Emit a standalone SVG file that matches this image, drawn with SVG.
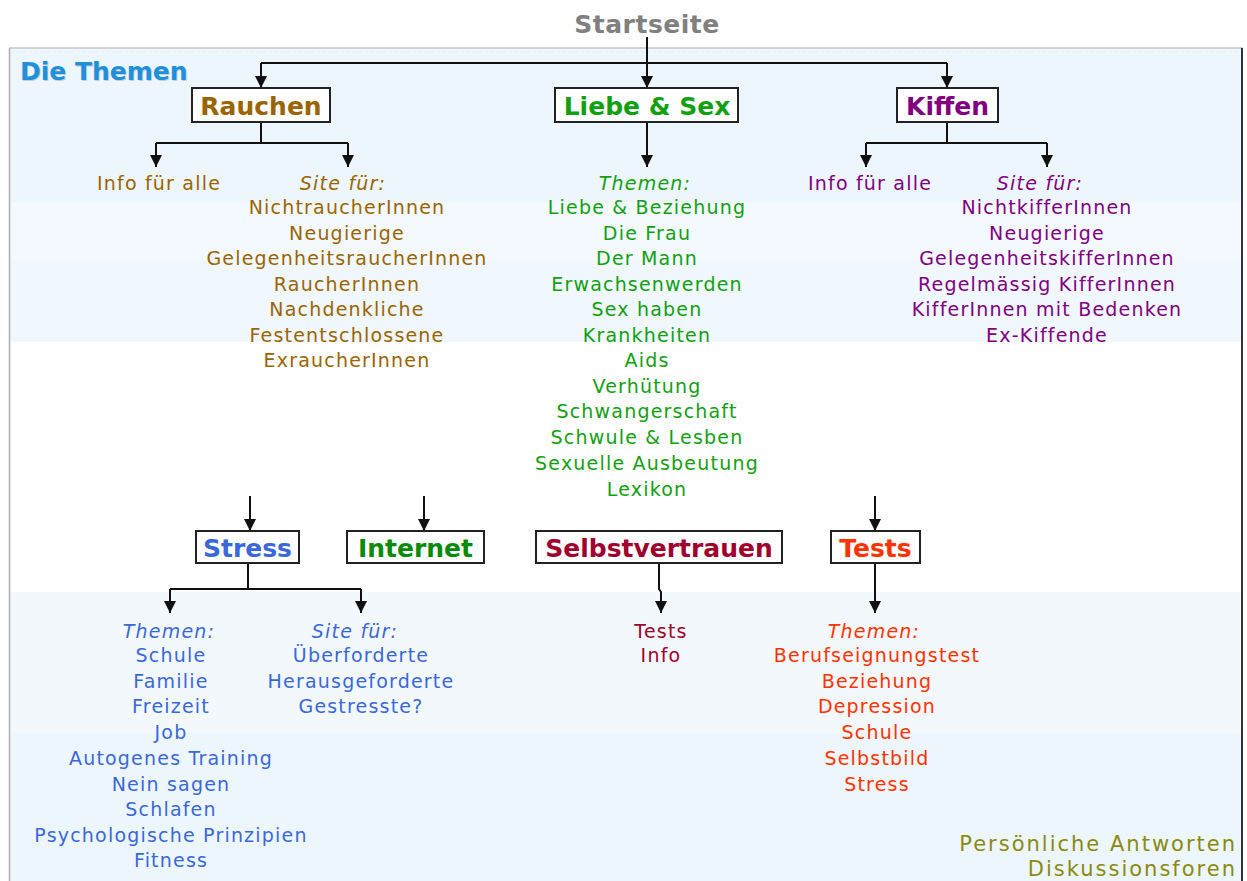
<svg xmlns="http://www.w3.org/2000/svg" width="1247" height="881" viewBox="0 0 1247 881">
<defs>
<marker id="ah" markerUnits="userSpaceOnUse" markerWidth="12" markerHeight="12" viewBox="0 0 10 10" refX="10" refY="5" orient="auto"><path d="M0,0 L10,5 L0,10 z" fill="#111"/></marker>
<style>
.bx{fill:#fff;stroke:#222;stroke-width:2}
.bt{font-family:"DejaVu Sans",Verdana,sans-serif;font-weight:bold;font-size:25px;text-anchor:middle}
.t{font-family:"DejaVu Sans",Verdana,sans-serif;font-size:19px;letter-spacing:1.2px;text-anchor:middle}
.i{font-style:italic}
.c{fill:none;stroke:#111;stroke-width:2}
.ca{fill:none;stroke:#111;stroke-width:2;marker-end:url(#ah)}
.ft{font-family:"DejaVu Sans",Verdana,sans-serif;font-size:21px;letter-spacing:2px;text-anchor:end;fill:#8A8A12}
.rau{fill:#9A6500}.lie{fill:#12A012}.kif{fill:#800080}.str{fill:#3A68DA}.int{fill:#0A8A0A}.sel{fill:#A0002E}.tst{fill:#FF3300}
</style>
</defs>
<rect width="1247" height="881" fill="#fff"/>
<g id="panel">
<rect x="9" y="48" width="1234" height="840" fill="#EEF6FD"/>
<rect x="10" y="202" width="1232" height="58" fill="#F3F9FF"/>
<rect x="10" y="260" width="1232" height="82" fill="#F0F7FE"/>
<rect x="10" y="342" width="1232" height="250" fill="#fff"/>
<rect x="10" y="592" width="1232" height="141" fill="#F3F8FD"/>
<line x1="9" y1="48" x2="1243" y2="48" stroke="#C4C4C4" stroke-width="1.5"/>
<line x1="12" y1="52" x2="1240" y2="52" stroke="#DDE3EA" stroke-width="1" stroke-dasharray="1 5"/>
<line x1="9.5" y1="48" x2="9.5" y2="881" stroke="#AFAFAF" stroke-width="1.5"/>
<line x1="1242" y1="48" x2="1242" y2="881" stroke="#333" stroke-width="2"/>
</g>
<g id="header">
<text x="647" y="33" class="bt" fill="#808080" letter-spacing="0.5">Startseite</text>
<text x="21" y="81" font-family="DejaVu Sans,Verdana,sans-serif" font-weight="bold" font-size="25" fill="#C8CDD4">Die Themen</text>
<text x="20" y="80" font-family="DejaVu Sans,Verdana,sans-serif" font-weight="bold" font-size="25" fill="#1E90DC">Die Themen</text>
</g>
<g id="connectors">
<path class="ca" d="M647,37 V88"/>
<path class="c" d="M261,63 H947"/>
<path class="ca" d="M261,63 V88"/>
<path class="ca" d="M947,63 V88"/>
<path class="c" d="M261,122 V143 M156,143 H348"/>
<path class="ca" d="M156,143 V167"/>
<path class="ca" d="M348,143 V167"/>
<path class="ca" d="M647,122 V167"/>
<path class="c" d="M947,122 V143 M866,143 H1047"/>
<path class="ca" d="M866,143 V167"/>
<path class="ca" d="M1047,143 V167"/>
<path class="ca" d="M250,496 V531"/>
<path class="ca" d="M424,496 V531"/>
<path class="ca" d="M875,496 V531"/>
<path class="c" d="M248,563 V589 M170,589 H361"/>
<path class="ca" d="M170,589 V613"/>
<path class="ca" d="M361,589 V613"/>
<path class="ca" d="M659,563 V589 L661,592 V613"/>
<path class="ca" d="M875,563 V613"/>
</g>
<g id="rauchen">
<rect class="bx" x="192" y="88" width="138" height="34"/>
<text class="bt rau" x="261" y="115">Rauchen</text>
<text class="t rau" x="159" y="190">Info für alle</text>
<text class="t rau i" x="343" y="190">Site für:</text>
<text class="t rau" x="347" y="214">NichtraucherInnen</text>
<text class="t rau" x="347" y="240">Neugierige</text>
<text class="t rau" x="347" y="265">GelegenheitsraucherInnen</text>
<text class="t rau" x="347" y="291">RaucherInnen</text>
<text class="t rau" x="347" y="316">Nachdenkliche</text>
<text class="t rau" x="347" y="342">Festentschlossene</text>
<text class="t rau" x="347" y="367">ExraucherInnen</text>
</g>
<g id="liebe">
<rect class="bx" x="555" y="88" width="183" height="34"/>
<text class="bt lie" x="647" y="115">Liebe &amp; Sex</text>
<text class="t lie i" x="645" y="190">Themen:</text>
<text class="t lie" x="647" y="214">Liebe &amp; Beziehung</text>
<text class="t lie" x="647" y="240">Die Frau</text>
<text class="t lie" x="647" y="265">Der Mann</text>
<text class="t lie" x="647" y="291">Erwachsenwerden</text>
<text class="t lie" x="647" y="316">Sex haben</text>
<text class="t lie" x="647" y="342">Krankheiten</text>
<text class="t lie" x="647" y="367">Aids</text>
<text class="t lie" x="647" y="393">Verhütung</text>
<text class="t lie" x="647" y="418">Schwangerschaft</text>
<text class="t lie" x="647" y="444">Schwule &amp; Lesben</text>
<text class="t lie" x="647" y="470">Sexuelle Ausbeutung</text>
<text class="t lie" x="647" y="496">Lexikon</text>
</g>
<g id="kiffen">
<rect class="bx" x="897" y="88" width="101" height="34"/>
<text class="bt kif" x="947.5" y="115">Kiffen</text>
<text class="t kif" x="870" y="190">Info für alle</text>
<text class="t kif i" x="1040" y="190">Site für:</text>
<text class="t kif" x="1047" y="214">NichtkifferInnen</text>
<text class="t kif" x="1047" y="240">Neugierige</text>
<text class="t kif" x="1047" y="265">GelegenheitskifferInnen</text>
<text class="t kif" x="1047" y="291">Regelmässig KifferInnen</text>
<text class="t kif" x="1047" y="316">KifferInnen mit Bedenken</text>
<text class="t kif" x="1047" y="342">Ex-Kiffende</text>
</g>
<g id="stress">
<rect class="bx" x="196" y="531" width="103" height="32"/>
<text class="bt str" x="247.5" y="557">Stress</text>
<text class="t str i" x="169" y="638">Themen:</text>
<text class="t str" x="171" y="662">Schule</text>
<text class="t str" x="171" y="688">Familie</text>
<text class="t str" x="171" y="713">Freizeit</text>
<text class="t str" x="171" y="739">Job</text>
<text class="t str" x="171" y="765">Autogenes Training</text>
<text class="t str" x="171" y="791">Nein sagen</text>
<text class="t str" x="171" y="816">Schlafen</text>
<text class="t str" x="171" y="842">Psychologische Prinzipien</text>
<text class="t str" x="171" y="867">Fitness</text>
<text class="t str i" x="355" y="638">Site für:</text>
<text class="t str" x="361" y="662">Überforderte</text>
<text class="t str" x="361" y="688">Herausgeforderte</text>
<text class="t str" x="361" y="713">Gestresste?</text>
</g>
<g id="internet">
<rect class="bx" x="347" y="531" width="137" height="32"/>
<text class="bt int" x="415.5" y="557">Internet</text>
</g>
<g id="selbstvertrauen">
<rect class="bx" x="536" y="531" width="246" height="32"/>
<text class="bt sel" x="659" y="557">Selbstvertrauen</text>
<text class="t sel" x="661" y="638">Tests</text>
<text class="t sel" x="661" y="662">Info</text>
</g>
<g id="tests">
<rect class="bx" x="831" y="531" width="89" height="32"/>
<text class="bt tst" x="875.5" y="557">Tests</text>
<text class="t tst i" x="874" y="638">Themen:</text>
<text class="t tst" x="877" y="662">Berufseignungstest</text>
<text class="t tst" x="877" y="688">Beziehung</text>
<text class="t tst" x="877" y="713">Depression</text>
<text class="t tst" x="877" y="739">Schule</text>
<text class="t tst" x="877" y="765">Selbstbild</text>
<text class="t tst" x="877" y="791">Stress</text>
</g>
<g id="footer">
<text class="ft" x="1237" y="851">Persönliche Antworten</text>
<text class="ft" x="1237" y="876">Diskussionsforen</text>
</g>
</svg>
